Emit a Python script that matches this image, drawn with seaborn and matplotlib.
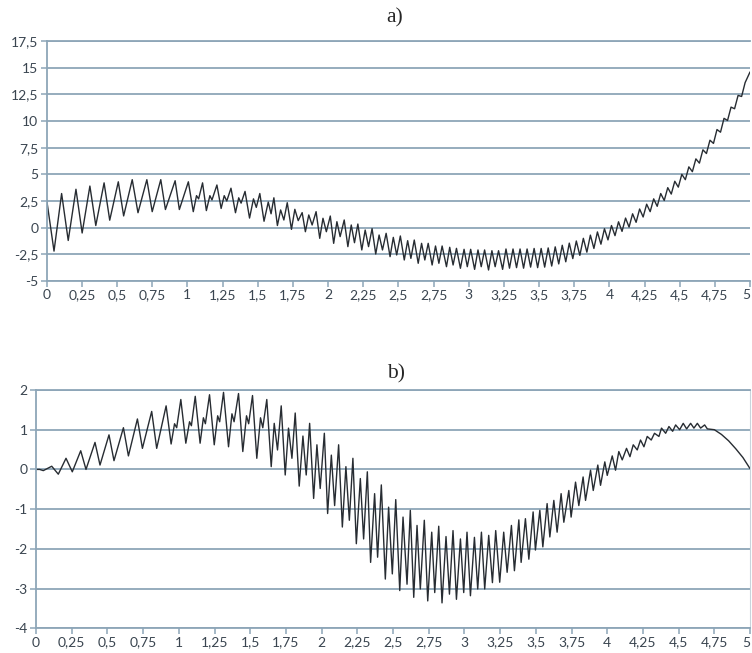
import matplotlib
matplotlib.use("Agg")
import matplotlib.pyplot as plt
import seaborn as sns
import pandas as pd

# Panel a): peaks and troughs, in x order
a_t = [0.000, 0.052, 0.106, 0.153, 0.208, 0.252, 0.307, 0.349, 0.408, 0.448,
       0.509, 0.547, 0.608, 0.649, 0.712, 0.750, 0.811, 0.844, 0.913, 0.943,
       1.007, 1.042, 1.065, 1.080, 1.108, 1.135, 1.160, 1.175, 1.210, 1.240,
       1.262, 1.280, 1.310, 1.342, 1.365, 1.382, 1.410, 1.442, 1.470, 1.490,
       1.515, 1.545, 1.575, 1.595, 1.615, 1.640, 1.663, 1.686, 1.710, 1.740,
       1.764, 1.788, 1.816, 1.839, 1.863, 1.887, 1.915, 1.941, 1.964, 1.988,
       2.016, 2.040, 2.063, 2.086, 2.115, 2.141, 2.165, 2.188, 2.212, 2.240,
       2.264, 2.288, 2.313, 2.339, 2.363, 2.387, 2.413, 2.441, 2.464, 2.488,
       2.514, 2.542, 2.566, 2.589, 2.613, 2.641, 2.665, 2.688, 2.712, 2.740,
       2.764, 2.788, 2.811, 2.842, 2.865, 2.889, 2.913, 2.941, 2.967, 2.990,
       3.014, 3.042, 3.066, 3.089, 3.113, 3.141, 3.165, 3.188, 3.212, 3.241,
       3.265, 3.290, 3.315, 3.340, 3.365, 3.390, 3.415, 3.440, 3.465, 3.490,
       3.515, 3.540, 3.565, 3.590, 3.615, 3.640, 3.665, 3.690, 3.715, 3.740,
       3.765, 3.790, 3.815, 3.840, 3.865, 3.890, 3.915, 3.940, 3.965, 3.990,
       4.015, 4.040, 4.065, 4.090, 4.115, 4.140, 4.165, 4.190, 4.215, 4.240,
       4.265, 4.290, 4.315, 4.340, 4.365, 4.390, 4.415, 4.440, 4.465, 4.490,
       4.515, 4.540, 4.565, 4.590, 4.615, 4.640, 4.665, 4.690, 4.715, 4.740,
       4.765, 4.790, 4.815, 4.840, 4.865, 4.890, 4.915, 4.940, 4.965, 5.000]
a_val = [2.6, -2.2, 3.2, -1.2, 3.6, -0.5, 3.9, 0.2, 4.2, 0.7,
         4.3, 1.1, 4.5, 1.4, 4.5, 1.5, 4.5, 1.7, 4.4, 1.7,
         4.3, 1.5, 3.0, 2.7, 4.2, 1.6, 3.0, 2.6, 4.0, 1.8,
         3.0, 2.5, 3.7, 1.4, 2.8, 2.3, 3.4, 0.9, 2.7, 1.9,
         3.2, 0.6, 2.4, 1.3, 2.8, 0.2, 1.66, 0.72, 2.34, -0.16,
         1.72, 0.66, 1.41, -0.38, 1.19, 0.25, 1.5, -1.0, 0.88, -0.38,
         1.09, -1.47, 0.56, -0.84, 0.72, -1.78, 0.25, -1.41, 0.34, -2.09,
         -0.22, -1.78, -0.09, -2.47, -0.69, -2.09, -0.53, -2.72, -0.91, -2.56,
         -0.78, -3.03, -1.22, -2.88, -1.16, -3.34, -1.47, -3.03, -1.47, -3.5,
         -1.72, -3.34, -1.72, -3.66, -1.84, -3.5, -1.94, -3.81, -2.03, -3.66,
         -2.03, -3.91, -2.09, -3.66, -2.09, -3.97, -2.16, -3.66, -2.16, -3.91,
         -2.0, -3.8, -2.0, -3.75, -2.0, -3.8, -2.0, -3.7, -1.95, -3.75,
         -1.95, -3.7, -1.9, -3.6, -1.8, -3.4, -1.65, -3.2, -1.45, -2.9,
         -1.25, -2.6, -1.0, -2.3, -0.7, -1.95, -0.4, -1.55, -0.1, -1.15,
         0.2, -0.75, 0.55, -0.35, 0.9, 0.05, 1.3, 0.5, 1.75, 1.0,
         2.2, 1.5, 2.7, 2.0, 3.2, 2.55, 3.75, 3.15, 4.35, 3.8,
         5.0, 4.5, 5.7, 5.25, 6.45, 6.05, 7.3, 6.95, 8.2, 7.9,
         9.2, 8.95, 10.25, 10.05, 11.3, 11.15, 12.4, 12.3, 13.6, 14.6]

# Panel b)
b_t = [0.000, 0.025, 0.051, 0.110, 0.156, 0.210, 0.254, 0.313, 0.350, 0.413,
       0.448, 0.511, 0.546, 0.612, 0.647, 0.710, 0.745, 0.810, 0.845, 0.911,
       0.946, 0.970, 0.985, 1.014, 1.049, 1.075, 1.088, 1.115, 1.149, 1.172,
       1.186, 1.215, 1.248, 1.272, 1.286, 1.313, 1.348, 1.372, 1.387, 1.418,
       1.448, 1.474, 1.489, 1.516, 1.546, 1.572, 1.588, 1.616, 1.647, 1.668,
       1.691, 1.717, 1.745, 1.768, 1.792, 1.815, 1.843, 1.869, 1.892, 1.916,
       1.944, 1.967, 1.990, 2.019, 2.042, 2.068, 2.091, 2.119, 2.145, 2.170,
       2.194, 2.219, 2.243, 2.271, 2.294, 2.320, 2.343, 2.371, 2.392, 2.418,
       2.446, 2.469, 2.495, 2.519, 2.547, 2.570, 2.598, 2.621, 2.645, 2.668,
       2.691, 2.719, 2.743, 2.771, 2.792, 2.820, 2.843, 2.871, 2.895, 2.920,
       2.944, 2.972, 2.995, 3.018, 3.042, 3.070, 3.093, 3.119, 3.142, 3.170,
       3.196, 3.219, 3.247, 3.275, 3.299, 3.329, 3.350, 3.381, 3.397, 3.427,
       3.451, 3.481, 3.497, 3.528, 3.549, 3.579, 3.598, 3.626, 3.649, 3.677,
       3.696, 3.731, 3.747, 3.778, 3.801, 3.831, 3.848, 3.883, 3.902, 3.934,
       3.953, 3.983, 4.000, 4.035, 4.058, 4.081, 4.105, 4.135, 4.159, 4.182,
       4.210, 4.233, 4.257, 4.280, 4.308, 4.331, 4.362, 4.380, 4.409, 4.432,
       4.458, 4.479, 4.507, 4.532, 4.556, 4.584, 4.607, 4.631, 4.654, 4.682,
       4.701, 4.750, 4.800, 4.850, 4.900, 4.950, 5.000]
b_val = [0.0, 0.0, -0.03, 0.08, -0.12, 0.28, -0.06, 0.47, 0.0, 0.68,
         0.11, 0.87, 0.22, 1.05, 0.34, 1.27, 0.53, 1.46, 0.53, 1.6,
         0.64, 1.15, 1.05, 1.76, 0.66, 1.2, 1.1, 1.84, 0.66, 1.3,
         1.15, 1.88, 0.62, 1.35, 1.2, 1.94, 0.57, 1.4, 1.2, 1.91,
         0.45, 1.35, 1.15, 1.86, 0.28, 1.3, 1.05, 1.76, 0.07, 1.16,
         0.49, 1.60, -0.14, 1.04, 0.28, 1.42, -0.42, 0.84, -0.14, 1.16,
         -0.73, 0.62, -0.48, 0.91, -1.11, 0.36, -0.91, 0.62, -1.45, 0.07,
         -1.28, 0.28, -1.87, -0.23, -1.75, -0.06, -2.34, -0.61, -2.21, -0.39,
         -2.76, -0.95, -2.63, -0.76, -3.05, -1.2, -2.89, -1.03, -3.22, -1.41,
         -3.01, -1.28, -3.31, -1.58, -3.1, -1.43, -3.36, -1.69, -3.14, -1.54,
         -3.27, -1.75, -3.1, -1.58, -3.18, -1.71, -3.01, -1.58, -3.01, -1.66,
         -2.85, -1.54, -2.84, -1.58, -2.59, -1.41, -2.55, -1.27, -2.34, -1.24,
         -2.26, -1.07, -2.03, -1.03, -1.95, -0.86, -1.70, -0.78, -1.58, -0.61,
         -1.33, -0.53, -1.2, -0.32, -0.91, -0.19, -0.78, -0.02, -0.53, 0.11,
         -0.4, 0.19, -0.15, 0.34, -0.02, 0.45, 0.24, 0.53, 0.32, 0.62,
         0.49, 0.74, 0.57, 0.83, 0.74, 0.91, 0.83, 1.04, 0.91, 1.08,
         0.96, 1.12, 1.0, 1.16, 1.02, 1.16, 1.04, 1.16, 1.04, 1.12,
         1.02, 1.0, 0.88, 0.72, 0.52, 0.3, 0.02]

x_ticks = [0, 0.25, 0.5, 0.75, 1, 1.25, 1.5, 1.75, 2, 2.25, 2.5, 2.75, 3,
           3.25, 3.5, 3.75, 4, 4.25, 4.5, 4.75, 5]
x_labels = ["0", "0,25", "0,5", "0,75", "1", "1,25", "1,5", "1,75", "2", "2,25",
            "2,5", "2,75", "3", "3,25", "3,5", "3,75", "4", "4,25", "4,5", "4,75", "5"]
a_yticks = [-5, -2.5, 0, 2.5, 5, 7.5, 10, 12.5, 15, 17.5]
a_ylabels = ["-5", "-2,5", "0", "2,5", "5", "7,5", "10", "12,5", "15", "17,5"]
b_yticks = [-4, -3, -2, -1, 0, 1, 2]
b_ylabels = ["-4", "-3", "-2", "-1", "0", "1", "2"]

GRID = "#8da6b8"
LINE = "#272c32"
TXT = "#3a4550"

sns.set_theme(style="white")
plt.rcParams["font.family"] = ["Lato", "DejaVu Sans"]

df_a = pd.DataFrame({"t": a_t, "v": a_val})
df_b = pd.DataFrame({"t": b_t, "v": b_val})

fig = plt.figure(figsize=(7.52, 6.53), dpi=100)
ax_a = fig.add_axes([0.0621, 0.5697, 0.9353, 0.3675])
ax_b = fig.add_axes([0.0479, 0.0378, 0.9495, 0.3650])


def style_axis(ax, yticks, ylabels, right_spine=False):
    ax.set_xlim(0, 5)
    ax.set_ylim(yticks[0], yticks[-1])
    ax.set_xticks(x_ticks)
    ax.set_xticklabels(x_labels)
    ax.set_yticks(yticks)
    ax.set_yticklabels(ylabels)
    ax.set_xlabel("")
    ax.set_ylabel("")
    ax.grid(axis="y", color=GRID, linewidth=1.3)
    ax.grid(axis="x", visible=False)
    for side in ["top", "bottom", "left"]:
        ax.spines[side].set_color(GRID)
        ax.spines[side].set_linewidth(1.3)
    ax.spines["right"].set_visible(right_spine)
    if right_spine:
        ax.spines["right"].set_color("#c9d4dc")
        ax.spines["right"].set_linewidth(0.8)
    ax.tick_params(axis="both", bottom=True, left=True, length=4, width=1.1,
                   color=GRID, labelcolor=TXT, labelsize=10, pad=2)
    # the last "5" sits at the right edge of the image; keep it inside
    ax.get_xticklabels()[-1].set_horizontalalignment("right")


sns.lineplot(data=df_a, x="t", y="v", ax=ax_a, color=LINE, linewidth=1.0, estimator=None)
style_axis(ax_a, a_yticks, a_ylabels)

sns.lineplot(data=df_b, x="t", y="v", ax=ax_b, color=LINE, linewidth=1.0, estimator=None)
style_axis(ax_b, b_yticks, b_ylabels, right_spine=True)

fig.text(0.525, 0.972, "a)", family="Liberation Serif", size=15.5, ha="center", va="center")
fig.text(0.527, 0.427, "b)", family="Liberation Serif", size=15.5, ha="center", va="center")

fig.savefig("out.png", dpi=100)
